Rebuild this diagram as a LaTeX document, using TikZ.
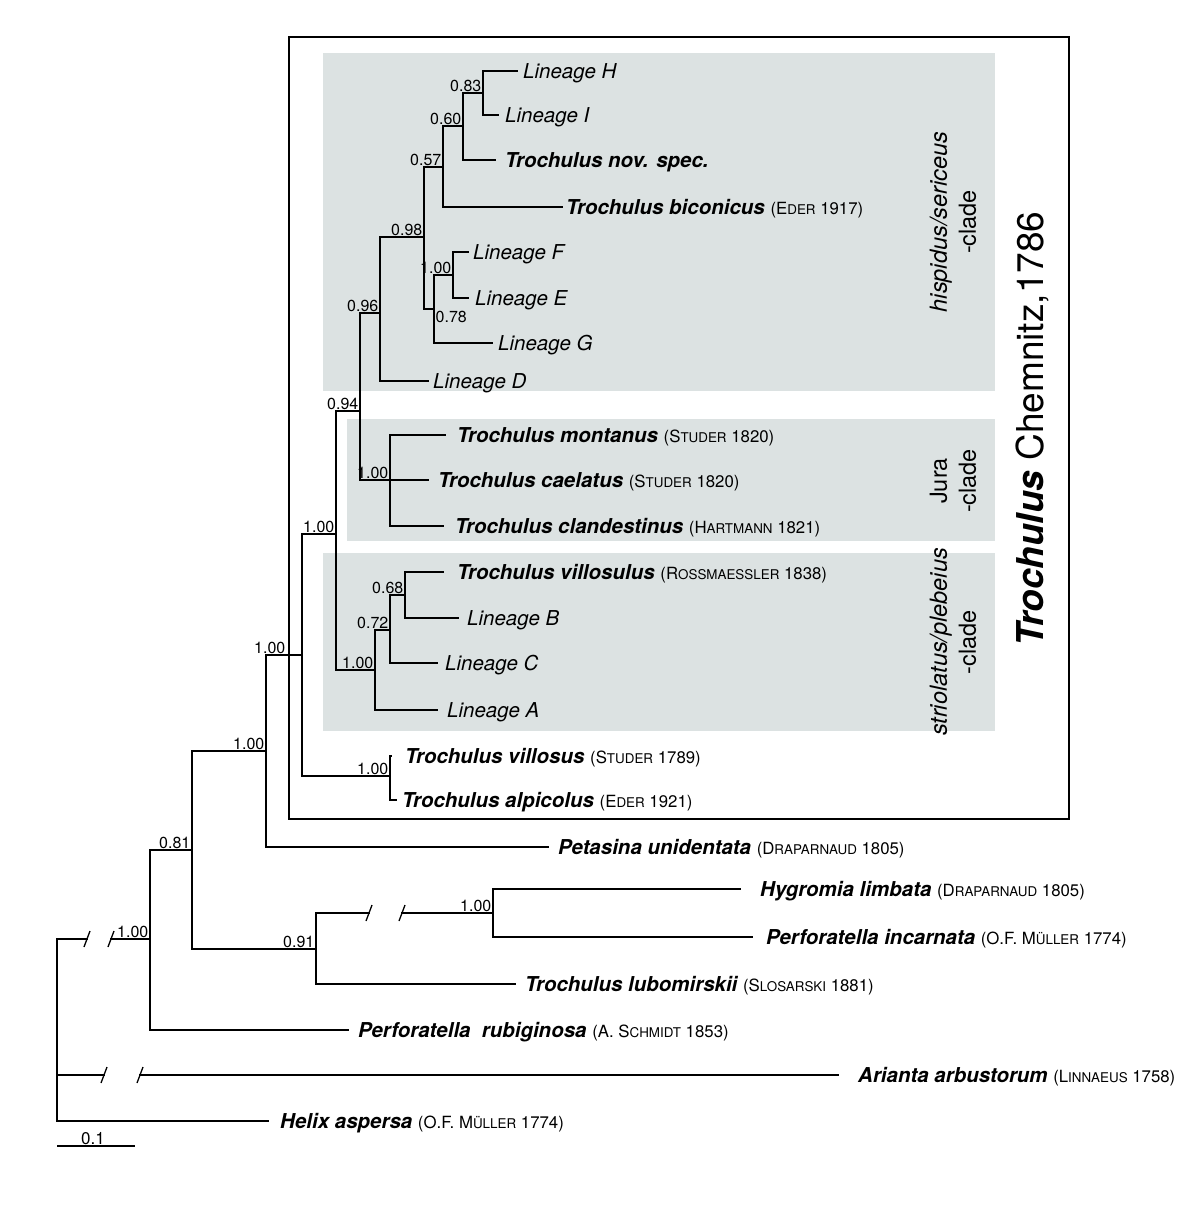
\documentclass[tikz,border=0pt]{standalone}
\usepackage{fontspec}
\setmainfont{TeX Gyre Heros}
\usetikzlibrary{positioning}

\definecolor{cladebg}{RGB}{220,226,226}

% taxon names and authors (author names in small capitals)
\newcommand{\spname}[1]{{\bfseries\itshape #1}}
\newcommand{\linname}[1]{{\itshape #1}}
\newcommand{\smc}[1]{{\fontsize{13.4}{14}\selectfont #1}}
\newcommand{\auth}[1]{{\fontsize{16.8}{17}\selectfont (#1)}}

\begin{document}
\begin{tikzpicture}[
  x=1pt, y=-1pt, % pixel grid of the figure, y downwards
  branch/.style={line width=1.3pt, line cap=rect},
  taxon/.style={anchor=west, inner sep=0pt, text height=15pt, text depth=0pt,
                font=\fontsize{20.5}{22}\selectfont},
  supp/.style={anchor=south east, inner sep=1.5pt, font=\fontsize{16}{16}\selectfont},
  cladelbl/.style={rotate=90, align=center, font=\fontsize{23.5}{29}\selectfont}
]
  \useasboundingbox (0,0) rectangle (1200,1206);

  % clade backgrounds and genus frame
  \fill[cladebg] (323,53) rectangle (995,391);
  \fill[cladebg] (347,419) rectangle (995,541);
  \fill[cladebg] (323,553) rectangle (995,731);
  \draw[line width=1.3pt] (289,37) rectangle (1069,819);

  % tips: name / end of branch / y / gap / text
  \foreach \id/\ex/\ey/\gap/\txt in {
      H/517/71/6/{\linname{Lineage H}},
      I/498/115/7/{\linname{Lineage I}},
      nov/495/160/10/{\spname{Trochulus nov. spec.}},
      bic/562/207/4/{\spname{Trochulus biconicus} \auth{E\smc{DER} 1917}},
      F/468/252/5/{\linname{Lineage F}},
      E/468/298/7/{\linname{Lineage E}},
      G/492/343/6/{\linname{Lineage G}},
      D/428/381/5/{\linname{Lineage D}},
      mont/445/435/12/{\spname{Trochulus montanus} \auth{S\smc{TUDER} 1820}},
      cael/428/480/10/{\spname{Trochulus caelatus} \auth{S\smc{TUDER} 1820}},
      clan/443/526/12/{\spname{Trochulus clandestinus} \auth{H\smc{ARTMANN} 1821}},
      vlsl/443/572/14/{\spname{Trochulus villosulus} \auth{R\smc{OSSMAESSLER} 1838}},
      B/458/618/9/{\linname{Lineage B}},
      C/437/663/8/{\linname{Lineage C}},
      A/437/710/10/{\linname{Lineage A}},
      vill/391/756/14/{\spname{Trochulus villosus} \auth{S\smc{TUDER} 1789}},
      alp/396/800/6/{\spname{Trochulus alpicolus} \auth{E\smc{DER} 1921}},
      pet/548/847/10/{\spname{Petasina unidentata} \auth{D\smc{RAPARNAUD} 1805}},
      hyg/740/889/20/{\spname{Hygromia limbata} \auth{D\smc{RAPARNAUD} 1805}},
      inc/752/937/14/{\spname{Perforatella incarnata} \auth{O.F. M\smc{ÜLLER} 1774}},
      lub/515/984/10/{\spname{Trochulus lubomirskii} \auth{S\smc{LOSARSKI} 1881}},
      rub/348/1030/10/{\spname{Perforatella\ \ rubiginosa} \auth{A. S\smc{CHMIDT} 1853}},
      ari/838/1075/20/{\spname{Arianta arbustorum} \auth{L\smc{INNAEUS} 1758}},
      hel/268/1121/12/{\spname{Helix aspersa} \auth{O.F. M\smc{ÜLLER} 1774}}} {
    \coordinate (e\id) at (\ex,\ey);
    \node[taxon, right=\gap pt of e\id] (t\id) {\txt};
  }

  % internal nodes (where the stem branch meets them)
  \coordinate (nQ) at (483,93);
  \coordinate (nP) at (463,126);
  \coordinate (nO) at (443,167);
  \coordinate (nS) at (453,275);
  \coordinate (nR) at (434,309);
  \coordinate (nN) at (424,237);
  \coordinate (nM) at (380,313);
  \coordinate (nJu) at (390,480);
  \coordinate (nL) at (360,411);
  \coordinate (nK) at (405,595);
  \coordinate (nJ) at (390,630);
  \coordinate (nI) at (375,670);
  \coordinate (nH) at (336,534);
  \coordinate (nG) at (390,776);
  \coordinate (nF) at (302,655);
  \coordinate (nE) at (266,751);
  \coordinate (nD) at (493,913);
  \coordinate (nC) at (316,949);
  \coordinate (nB) at (192,850);
  \coordinate (nA) at (150,939);
  \coordinate (root) at (57,1075);
  % ends of the shortened branches
  \coordinate (bR1) at (87,939);   \coordinate (bR2) at (111,939);
  \coordinate (bR3) at (104,1075); \coordinate (bR4) at (140,1075);
  \coordinate (bC1) at (369,913);  \coordinate (bC2) at (402,913);

  % branches
  \foreach \p/\c in {nQ/eH, nQ/eI, nP/nQ, nP/enov, nO/nP, nO/ebic,
                     nS/eF, nS/eE, nR/nS, nR/eG, nN/nO, nN/nR, nM/nN, nM/eD,
                     nJu/emont, nJu/eclan, nL/nM, nL/nJu,
                     nK/evlsl, nK/eB, nJ/nK, nJ/eC, nI/nJ, nI/eA, nH/nL, nH/nI,
                     nG/evill, nG/ealp, nF/nH, nF/nG, nE/nF, nE/epet,
                     nD/ehyg, nD/einc, nC/bC1, nC/elub, nB/nE, nB/nC,
                     nA/nB, nA/erub, root/bR1, root/bR3, root/ehel}
    \draw[branch] (\p) |- (\c);
  \draw[branch] (nJu) -- (ecael);
  \draw[branch] (bC2) -- (nD);
  \draw[branch] (bR2) -- (nA);
  \draw[branch] (bR4) -- (eari);

  % break marks
  \foreach \b in {bR1, bR2, bR3, bR4, bC1, bC2}
    \draw[line width=1.3pt] (\b) +(-3,8) -- +(3,-8);

  % posterior probabilities
  \foreach \n/\v in {nQ/0.83, nP/0.60, nO/0.57, nN/0.98, nS/1.00, nM/0.96,
                     nL/0.94, nJu/1.00, nH/1.00, nK/0.68, nJ/0.72, nI/1.00,
                     nG/1.00, nE/1.00, nB/0.81, nC/0.91, nD/1.00, nA/1.00}
    \node[supp] at (\n) {\v};
  \node[supp, anchor=north west] at (nR) {0.78};
  \node[supp] at ([xshift=-15pt]nF) {1.00};

  % clade names
  \node[cladelbl] (hisp) at (953,222) {\textit{hispidus/sericeus}\\-clade};
  \node[cladelbl] (jura) at (953,481) {Jura\\-clade};
  \node[cladelbl] (strio) at (953,642) {\textit{striolatus/plebeius}\\-clade};
  \node[rotate=90, font=\fontsize{37}{38}\selectfont] (genus) at (1032,429)
    {\spname{Trochulus} Chemnitz,1786};

  % scale bar
  \coordinate (sb0) at (57,1146);
  \coordinate (sb1) at (135,1146);
  \draw[line width=1.2pt] (sb0) -- (sb1);
  \node[font=\fontsize{17}{17}\selectfont, anchor=south, inner sep=1.5pt] at (93,1146) {0.1};
\end{tikzpicture}
\end{document}
